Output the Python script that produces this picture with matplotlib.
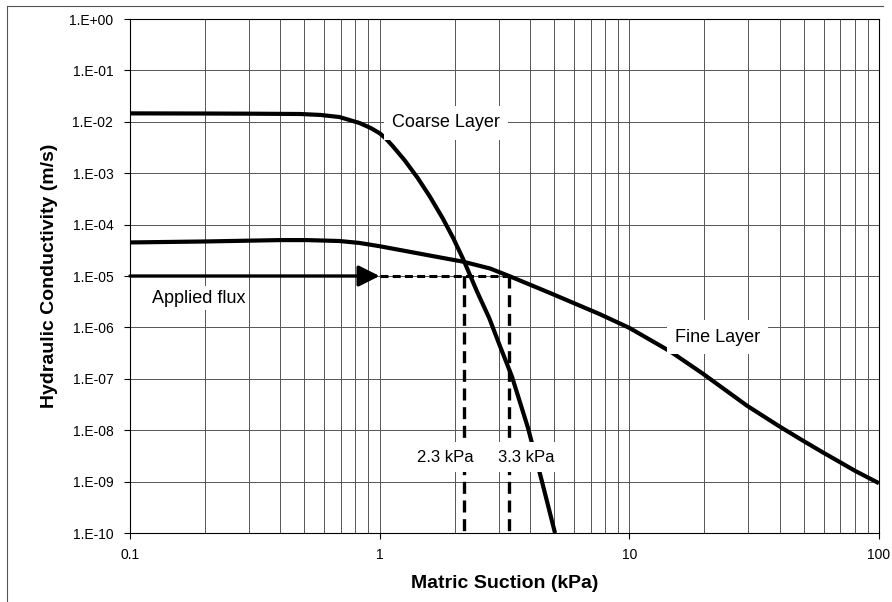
import matplotlib

matplotlib.use("Agg")
import matplotlib.pyplot as plt
from matplotlib.lines import Line2D

plt.rcParams["font.family"] = ["Liberation Sans", "DejaVu Sans"]

# coarse layer: matric suction (kPa) vs hydraulic conductivity (m/s)
coarse_suction = [0.1, 0.2, 0.3, 0.48, 0.58, 0.69, 0.83, 0.92, 1.0, 1.06, 1.13,
                  1.26, 1.42, 1.59, 1.79, 1.97, 2.16, 2.45, 2.75, 3.03, 3.39, 3.93,
                  4.47, 5.04]
coarse_k = [1.46e-2, 1.45e-2, 1.44e-2, 1.42e-2, 1.36e-2, 1.24e-2, 9.5e-3, 7.6e-3,
            6.0e-3, 4.7e-3, 3.34e-3, 1.78e-3, 8.1e-4, 3.5e-4, 1.32e-4, 5.5e-5,
            2.14e-5, 5.1e-6, 1.5e-6, 4.4e-7, 1.1e-7, 1.1e-8, 1.0e-9, 1.0e-10]

# fine layer
fine_suction = [0.1, 0.2, 0.4, 0.51, 0.69, 0.83, 1.0, 1.21, 1.59, 2.16, 2.77, 3.3,
                4.8, 7.6, 10.0, 14.6, 19.7, 29.6, 40.1, 49.5, 59.6, 69.7, 80.2, 100.0]
fine_k = [4.5e-5, 4.7e-5, 5.0e-5, 5.0e-5, 4.8e-5, 4.4e-5, 3.8e-5, 3.2e-5, 2.5e-5,
          1.9e-5, 1.4e-5, 1.0e-5, 4.7e-6, 1.82e-6, 9.8e-7, 3.4e-7, 1.26e-7, 3.0e-8,
          1.17e-8, 6.3e-9, 3.7e-9, 2.4e-9, 1.62e-9, 9.3e-10]

applied_flux = 1.0e-5
flux_start, flux_end = 0.1, 1.0
crossing_suction = [2.18, 3.3]
crossing_labels = ["2.3 kPa", "3.3 kPa"]

x_ticks = [0.1, 1, 10, 100]
x_tick_labels = ["0.1", "1", "10", "100"]
y_ticks = [1e0, 1e-1, 1e-2, 1e-3, 1e-4, 1e-5, 1e-6, 1e-7, 1e-8, 1e-9, 1e-10]
y_tick_labels = ["1.E+00", "1.E-01", "1.E-02", "1.E-03", "1.E-04", "1.E-05",
                 "1.E-06", "1.E-07", "1.E-08", "1.E-09", "1.E-10"]

fig = plt.figure(figsize=(8.92, 6.02), dpi=100)
ax = fig.add_axes([0.1457, 0.1146, 0.8397, 0.8538])
ax.set_xscale("log")
ax.set_yscale("log")
ax.set_xlim(0.1, 100)
ax.set_ylim(1e-10, 1)

# grid: decades both ways, 2..9 verticals
grid_kw = dict(color="#555555", linewidth=0.7, zorder=1)
for yt in y_ticks:
    ax.axhline(yt, **grid_kw)
for dec in [0.1, 1, 10]:
    for m in range(1, 10):
        ax.axvline(dec * m, **grid_kw)
ax.axvline(100, **grid_kw)

ax.set_xticks(x_ticks)
ax.set_xticklabels(x_tick_labels)
ax.set_yticks(y_ticks)
ax.set_yticklabels(y_tick_labels)
ax.minorticks_off()
ax.tick_params(axis="both", which="major", labelsize=10, length=4, width=0.8,
               direction="out")
ax.tick_params(axis="y", pad=8)
ax.tick_params(axis="x", pad=7)
for sp in ax.spines.values():
    sp.set_linewidth(0.8)

ax.plot(coarse_suction, coarse_k, color="black", lw=3.0, zorder=3,
        solid_capstyle="butt", solid_joinstyle="round")
ax.plot(fine_suction, fine_k, color="black", lw=3.0, zorder=3,
        solid_capstyle="butt", solid_joinstyle="round")

# applied flux arrow and dashed projections
ax.annotate("", xy=(flux_end, applied_flux), xytext=(flux_start, applied_flux),
            arrowprops=dict(arrowstyle="-|>,head_length=0.8,head_width=0.4",
                            lw=2.4, color="black", mutation_scale=16,
                            shrinkA=0, shrinkB=0), zorder=4)
ax.plot([flux_end, crossing_suction[1]], [applied_flux, applied_flux],
        color="black", lw=2.2, linestyle=(0, (2.6, 1.4)), zorder=3)
for xs in crossing_suction:
    ax.plot([xs, xs], [applied_flux, 1e-10], color="black", lw=2.4,
            linestyle=(0, (3.6, 2.0)), zorder=3, clip_on=False)

box = dict(facecolor="white", edgecolor="none", boxstyle="square,pad=0.45")
ax.text(1.84, 9.5e-3, "Coarse Layer", fontsize=13, ha="center", va="center",
        bbox=box, zorder=5)
ax.text(22.6, 6.5e-7, "Fine Layer", fontsize=13, ha="center", va="center",
        bbox=box, zorder=5)
ax.text(0.1225, 3.7e-6, "Applied flux", fontsize=13, ha="left", va="center",
        bbox=dict(facecolor="white", edgecolor="none", boxstyle="square,pad=0.2"),
        zorder=5)
small_box = dict(facecolor="white", edgecolor="none", boxstyle="square,pad=0.45")
for xs, lab in zip([1.84, 3.86], crossing_labels):
    ax.text(xs, 3.0e-9, lab, fontsize=12, ha="center", va="center",
            bbox=small_box, zorder=5)

ax.set_xlabel("Matric Suction (kPa)", fontsize=14, fontweight="bold", labelpad=9)
ax.set_ylabel("Hydraulic Conductivity (m/s)", fontsize=14, fontweight="bold",
              labelpad=8)

# chart-area frame (left and top edges visible in the scan)
fig.add_artist(Line2D([0.008, 0.008], [0.0, 0.99], color="#555555", lw=0.8,
                      transform=fig.transFigure))
fig.add_artist(Line2D([0.008, 0.99], [0.99, 0.99], color="#555555", lw=0.8,
                      transform=fig.transFigure))

fig.savefig("out.png", dpi=100)
plt.close(fig)
